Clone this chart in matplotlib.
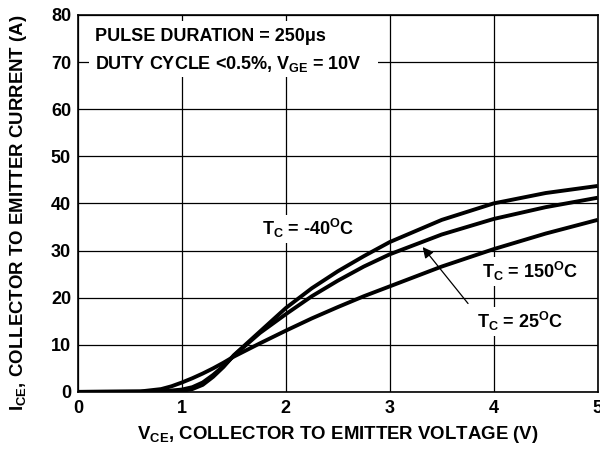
import matplotlib.pyplot as plt

plt.rcParams['font.family'] = 'Liberation Sans'
plt.rcParams['font.weight'] = 'bold'
plt.rcParams['mathtext.fontset'] = 'custom'
plt.rcParams['mathtext.rm'] = 'Liberation Sans:bold'
plt.rcParams['mathtext.it'] = 'Liberation Sans:bold'
plt.rcParams['mathtext.bf'] = 'Liberation Sans:bold'

# curves
v_m40 = [0, 0.8, 1.0, 1.1, 1.2, 1.3, 1.4, 1.5, 1.75, 2.0, 2.25, 2.5, 2.75, 3.0, 3.5, 4.0, 4.5, 5.0]
i_m40 = [0, 0, 0.2, 0.6, 1.5, 3.2, 5.3, 7.8, 12.8, 17.8, 22.0, 25.6, 28.8, 31.8, 36.5, 40.0, 42.2, 43.7]

v_25 = [0, 0.8, 1.0, 1.1, 1.2, 1.3, 1.4, 1.5, 1.75, 2.0, 2.25, 2.5, 2.75, 3.0, 3.5, 4.0, 4.5, 5.0]
i_25 = [0, 0.1, 0.5, 1.0, 2.0, 3.6, 5.5, 7.7, 12.5, 16.5, 20.3, 23.6, 26.6, 29.2, 33.4, 36.7, 39.2, 41.2]

v_150 = [0, 0.6, 0.8, 0.9, 1.0, 1.1, 1.2, 1.3, 1.4, 1.5, 1.75, 2.0, 2.25, 2.5, 2.75, 3.0, 3.5, 4.0, 4.5, 5.0]
i_150 = [0, 0.1, 0.6, 1.2, 2.0, 2.9, 3.9, 5.0, 6.2, 7.5, 10.3, 13.0, 15.6, 18.0, 20.3, 22.4, 26.6, 30.3, 33.6, 36.5]

x_ticks = [0, 1, 2, 3, 4, 5]
y_ticks = [0, 10, 20, 30, 40, 50, 60, 70, 80]

fig = plt.figure(figsize=(6, 4.51), dpi=100)
ax = fig.add_axes([0.13, 0.131, 0.866, 0.836])

for v, i in [(v_m40, i_m40), (v_25, i_25), (v_150, i_150)]:
    ax.plot(v, i, color='black', linewidth=2.8, solid_capstyle='butt', zorder=3)

ax.set_xlim(0, 5)
ax.set_ylim(0, 80)
ax.set_xticks(x_ticks)
ax.set_yticks(y_ticks)
ax.tick_params(length=0, labelsize=13)
ax.tick_params(axis='y', pad=5)
ax.tick_params(axis='x', pad=6)
for lbl in ax.get_xticklabels() + ax.get_yticklabels():
    lbl.set_fontweight('bold')
ax.grid(True, color='black', linewidth=0.9)
for s in ax.spines.values():
    s.set_linewidth(1.2)

ax.set_xlabel(r'$\mathrm{V_{CE}}$, COLLECTOR TO EMITTER VOLTAGE (V)', fontsize=13.4,
              fontweight='bold', labelpad=5)
ax.set_ylabel(r'$\mathrm{I_{CE}}$, COLLECTOR TO EMITTER CURRENT (A)', fontsize=13.4,
              fontweight='bold', va='center')
ax.yaxis.set_label_coords(-0.115, 0.475)

box = dict(facecolor='white', edgecolor='none', pad=2)
ax.text(0.16, 75.4, 'PULSE DURATION = 250\u03bcs', fontsize=13, fontweight='bold',
        va='center', ha='left', zorder=4)
ax.text(0.16, 69.6, r'DUTY CYCLE <0.5%, $\mathrm{V_{GE}}$ = 10V', fontsize=13,
        fontweight='bold', va='center', ha='left', zorder=4)
ax.fill_between([0.11, 2.89], 66.8, 78.8, color='white', zorder=2.5, linewidth=0)

ax.text(1.77, 34.6, r'$\mathrm{T_C}$ = -40$^{\mathrm{O}}$C', fontsize=13, fontweight='bold',
        va='center', ha='left', bbox=box, zorder=4)
ax.text(3.89, 25.5, r'$\mathrm{T_C}$ = 150$^{\mathrm{O}}$C', fontsize=13, fontweight='bold',
        va='center', ha='left', bbox=box, zorder=4)
ax.text(3.84, 14.9, r'$\mathrm{T_C}$ = 25$^{\mathrm{O}}$C', fontsize=13, fontweight='bold',
        va='center', ha='left', bbox=box, zorder=4)
ax.annotate('', xy=(3.30, 31.2), xytext=(3.77, 18.3),
            arrowprops=dict(arrowstyle='-|>', color='black', lw=0.9,
                            mutation_scale=16), zorder=5)

fig.savefig('out.png', dpi=100)
